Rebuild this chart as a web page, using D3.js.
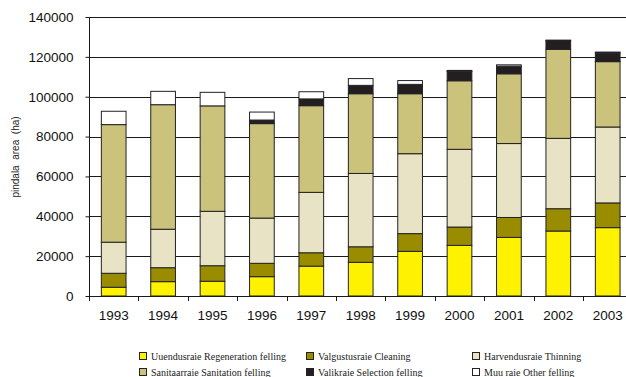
<!DOCTYPE html>
<html>
<head>
<meta charset="utf-8">
<script src="https://cdn.jsdelivr.net/npm/d3@7"></script>
<style>
  html, body { margin: 0; padding: 0; background: #fff; }
  svg { display: block; }
  .sans { font-family: "Liberation Sans", Arial, sans-serif; }
  .serif { font-family: "Liberation Serif", "Times New Roman", serif; }
</style>
</head>
<body>
<svg id="chart" width="626" height="377"></svg>
<script>
// Felling area by type, hectares
const years = ["1993","1994","1995","1996","1997","1998","1999","2000","2001","2002","2003"];
const regeneration = [4400, 7200, 7400, 9700, 15000, 16900, 22400, 25400, 29400, 32600, 34300];
const cleaning     = [7000, 7000, 7800, 6700, 6700, 7800, 8900, 9200, 10000, 11200, 12400];
const thinning     = [15600, 19300, 27300, 22700, 30300, 36800, 40100, 39000, 37100, 35300, 38100];
const sanitation   = [59000, 62500, 52900, 47400, 43500, 40000, 30100, 34400, 35000, 44700, 32800];
const selection    = [0, 0, 0, 1800, 3400, 4200, 4700, 4700, 3800, 4300, 4300];
const other        = [6700, 6700, 6800, 4000, 3600, 3400, 1900, 500, 700, 300, 500];

const seriesKeys   = ["regeneration","cleaning","thinning","sanitation","selection","other"];
const seriesValues = [regeneration, cleaning, thinning, sanitation, selection, other];
const seriesLabels = [
  "Uuendusraie Regeneration felling",
  "Valgustusraie Cleaning",
  "Harvendusraie Thinning",
  "Sanitaarraie Sanitation felling",
  "Valikraie Selection felling",
  "Muu raie Other felling"
];
const seriesColors = ["#fff200", "#9a8c00", "#e8e3c4", "#cbc27c", "#231f20", "#ffffff"];
const yTicks = [0, 20000, 40000, 60000, 80000, 100000, 120000, 140000];

const rows = years.map((yr, i) => {
  const r = { year: yr };
  seriesKeys.forEach((k, j) => r[k] = seriesValues[j][i]);
  return r;
});

const svg = d3.select("#chart");
const plotLeft = 89, plotTop = 17, plotBottom = 296, step = 49.4;
const plotRight = plotLeft + step * years.length;

const x = d3.scaleBand().domain(years).range([plotLeft, plotRight])
  .paddingInner(0.5).paddingOuter(0.25);
const y = d3.scaleLinear().domain([0, 140000]).range([plotBottom, plotTop]);

// horizontal gridlines
svg.append("g").selectAll("line").data(yTicks.filter(d => d > 0)).join("line")
  .attr("x1", plotLeft).attr("x2", 626)
  .attr("y1", d => Math.round(y(d)) + 0.5).attr("y2", d => Math.round(y(d)) + 0.5)
  .attr("stroke", "#1a1a1a").attr("stroke-width", 1);

// stacked bars
const stack = d3.stack().keys(seriesKeys)(rows);
const layers = svg.append("g").selectAll("g").data(stack).join("g")
  .attr("fill", (d, i) => seriesColors[i]);
layers.selectAll("rect").data(d => d.filter(s => s[1] - s[0] > 0)).join("rect")
  .attr("x", d => x(d.data.year))
  .attr("width", x.bandwidth())
  .attr("y", d => y(d[1]))
  .attr("height", d => y(d[0]) - y(d[1]))
  .attr("stroke", "#222")
  .attr("stroke-width", 1);

// y axis
const yAxis = svg.append("g").attr("transform", `translate(${plotLeft + 0.5},0)`)
  .call(d3.axisLeft(y).tickValues(yTicks).tickFormat(d3.format("d")).tickSize(4).tickPadding(12));
yAxis.attr("font-family", null).attr("font-size", null);
yAxis.select(".domain").attr("stroke", "#1a1a1a").attr("d", `M0,${plotTop}V${plotBottom}`);
yAxis.selectAll(".tick line").attr("stroke", "#1a1a1a");
yAxis.selectAll("text").attr("class", "sans")
  .attr("font-size", "13.5px").attr("fill", "#111");

// x axis baseline with ticks between categories
svg.append("line").attr("x1", plotLeft).attr("x2", 626)
  .attr("y1", plotBottom + 0.5).attr("y2", plotBottom + 0.5)
  .attr("stroke", "#1a1a1a");
svg.append("g").selectAll("line").data(d3.range(years.length + 1)).join("line")
  .attr("x1", i => Math.round(plotLeft + i * step) + 0.5)
  .attr("x2", i => Math.round(plotLeft + i * step) + 0.5)
  .attr("y1", plotBottom).attr("y2", plotBottom + 5)
  .attr("stroke", "#1a1a1a");
svg.append("g").selectAll("text").data(years).join("text")
  .attr("class", "sans")
  .attr("x", d => x(d) + x.bandwidth() / 2)
  .attr("y", 320)
  .attr("text-anchor", "middle")
  .attr("font-size", "13.5px").attr("fill", "#111")
  .text(d => d);

// y axis title
svg.append("text")
  .attr("class", "sans")
  .attr("transform", "translate(19,157) rotate(-90)")
  .attr("text-anchor", "middle")
  .attr("font-size", "10px").attr("fill", "#222")
  .attr("xml:space", "preserve")
  .text("pindala  area  (ha)");

// legend
const legendCols = [139.5, 306.5, 472.5];
const legendRows = [356, 372];
const legend = svg.append("g").selectAll("g").data(seriesLabels).join("g")
  .attr("transform", (d, i) => `translate(${legendCols[i % 3]},${legendRows[Math.floor(i / 3)]})`);
legend.append("rect")
  .attr("x", 0).attr("y", -3.5).attr("width", 7).attr("height", 7)
  .attr("fill", (d, i) => seriesColors[i]).attr("stroke", "#222");
legend.append("text")
  .attr("class", "serif")
  .attr("x", 11.5).attr("y", 3.5)
  .attr("font-size", "10px").attr("fill", "#222")
  .text(d => d);
</script>
</body>
</html>
